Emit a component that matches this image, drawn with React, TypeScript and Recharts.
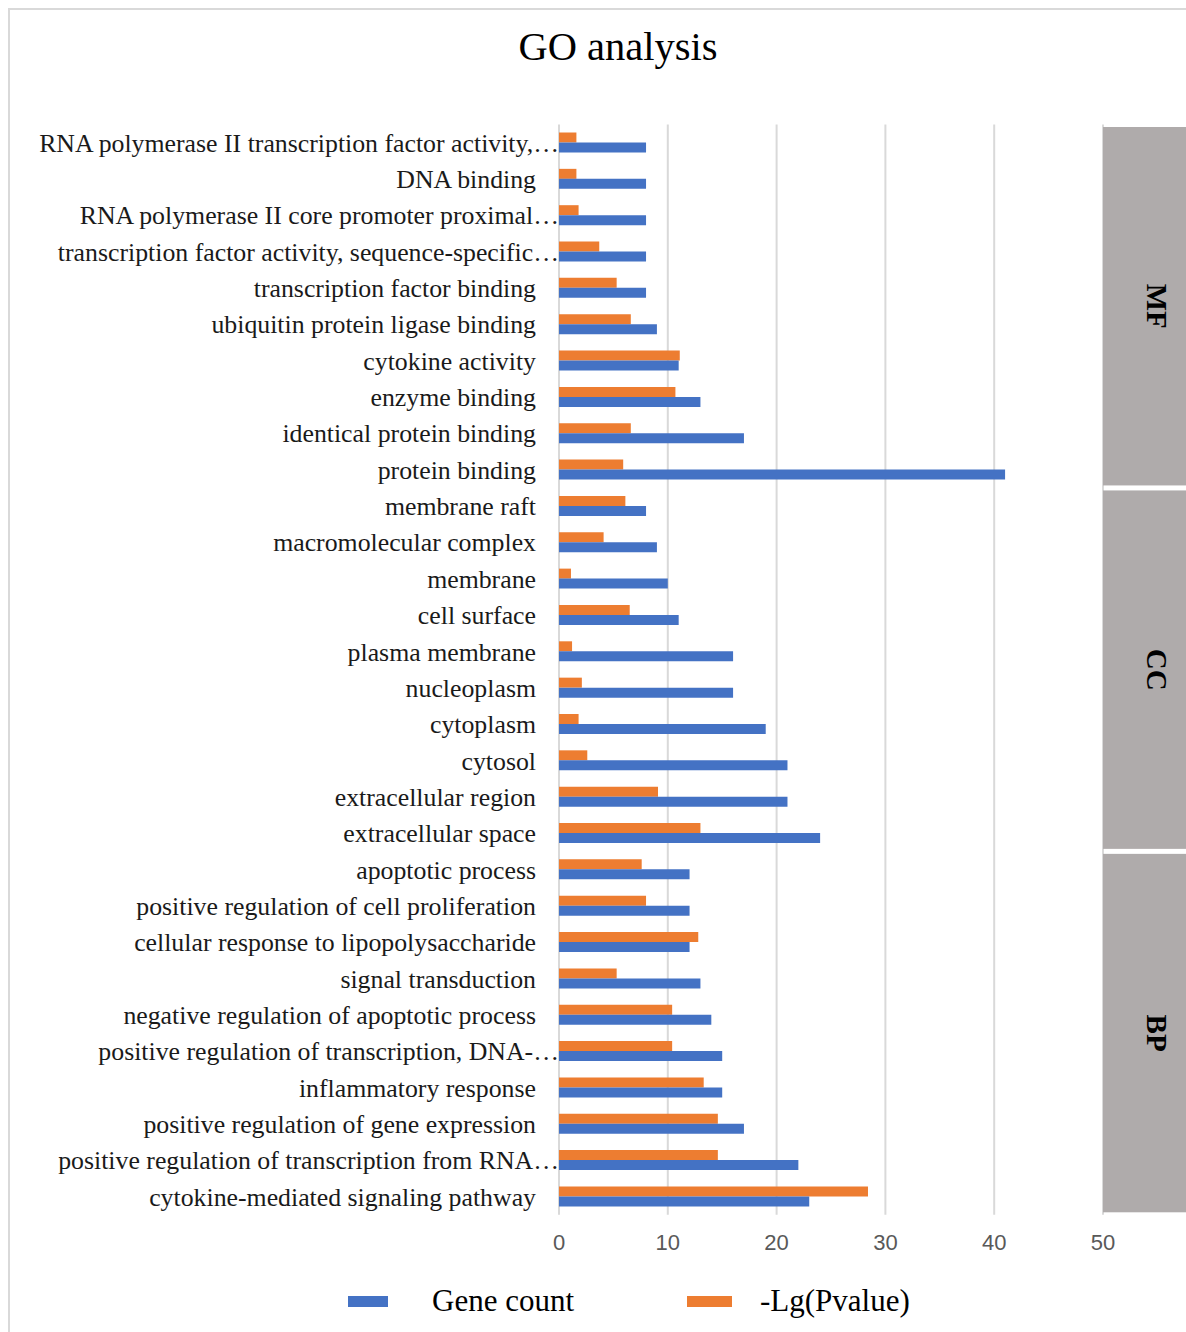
import {
  Bar,
  BarChart,
  CartesianGrid,
  ReferenceArea,
  XAxis,
  YAxis,
} from "recharts";

const categories = [
  "RNA polymerase II transcription factor activity,…",
  "DNA binding",
  "RNA polymerase II core promoter proximal…",
  "transcription factor activity, sequence-specific…",
  "transcription factor binding",
  "ubiquitin protein ligase binding",
  "cytokine activity",
  "enzyme binding",
  "identical protein binding",
  "protein binding",
  "membrane raft",
  "macromolecular complex",
  "membrane",
  "cell surface",
  "plasma membrane",
  "nucleoplasm",
  "cytoplasm",
  "cytosol",
  "extracellular region",
  "extracellular space",
  "apoptotic process",
  "positive regulation of cell proliferation",
  "cellular response to lipopolysaccharide",
  "signal transduction",
  "negative regulation of apoptotic process",
  "positive regulation of transcription, DNA-…",
  "inflammatory response",
  "positive regulation of gene expression",
  "positive regulation of transcription from RNA…",
  "cytokine-mediated signaling pathway",
];

const geneCount = [
  8, 8, 8, 8, 8, 9, 11, 13, 17, 41,
  8, 9, 10, 11, 16, 16, 19, 21, 21, 24,
  12, 12, 12, 13, 14, 15, 15, 17, 22, 23,
];

const negLgP = [
  1.6, 1.6, 1.8, 3.7, 5.3, 6.6, 11.1, 10.7, 6.6, 5.9,
  6.1, 4.1, 1.1, 6.5, 1.2, 2.1, 1.8, 2.6, 9.1, 13.0,
  7.6, 8.0, 12.8, 5.3, 10.4, 10.4, 13.3, 14.6, 14.6, 28.4,
];

const groupNames = ["MF", "CC", "BP"];
const groupSizes = [10, 10, 10];

const xTicks = [0, 10, 20, 30, 40, 50];

const BLUE = "#4472C4";
const ORANGE = "#ED7D31";
const SERIF = '"Liberation Serif", "Times New Roman", serif';

const data = categories.map((name, i) => ({
  name,
  count: geneCount[i],
  pval: negLgP[i],
}));

const legendItems = [
  { label: "Gene count", color: BLUE, left: 348, textLeft: 432, w: 40 },
  { label: "-Lg(Pvalue)", color: ORANGE, left: 687, textLeft: 760, w: 45 },
];

function CategoryTick(props: any) {
  const { x, y, payload } = props;
  const label: string = payload.value;
  const cut = label.endsWith("…");
  return (
    <text
      x={cut ? x : x - 23}
      y={y}
      dy="0.35em"
      textAnchor="end"
      fill="#1a1a1a"
      fontSize={25.8}
      fontFamily={SERIF}
    >
      {label}
    </text>
  );
}

// grey side panel for a group of categories (rect already spans full bands)
const panelShape = (name: string) => (props: any) => {
  const { x, y, width, height } = props;
  const top = y + 2.5;
  const h = height - 5;
  const cx = x + 54;
  const cy = top + h / 2;
  return (
    <g>
      <rect x={x} y={top} width={width} height={h} fill="#AFABAB" />
      <text
        x={cx}
        y={cy}
        transform={`rotate(90 ${cx} ${cy})`}
        textAnchor="middle"
        dominantBaseline="central"
        fontSize={29}
        fontWeight="bold"
        fontFamily={SERIF}
        fill="#000"
      >
        {name}
      </text>
    </g>
  );
};

export default function App() {
  let start = 0;
  const panels = groupNames.map((g, i) => {
    const first = categories[start];
    const last = categories[start + groupSizes[i] - 1];
    start += groupSizes[i];
    return { g, first, last };
  });

  return (
    <div
      style={{
        position: "absolute",
        left: 0,
        top: 0,
        width: 1186,
        height: 1332,
        overflow: "hidden",
        background: "#fff",
      }}
    >
      <div
        style={{
          position: "absolute",
          left: 8,
          top: 8,
          width: 1300,
          height: 1400,
          border: "2px solid #d9d9d9",
        }}
      />
      <div
        style={{
          position: "absolute",
          left: 418,
          top: 23,
          width: 400,
          textAlign: "center",
          fontFamily: SERIF,
          fontSize: 40.5,
          color: "#000",
        }}
      >
        GO analysis
      </div>
      <div style={{ position: "absolute", left: 0, top: 0 }}>
        <BarChart
          width={1186}
          height={1280}
          data={data}
          layout="vertical"
          barSize={10}
          barGap={0}
          margin={{ top: 124.5, right: 83, left: 0, bottom: 25.2 }}
        >
          <CartesianGrid
            horizontal={false}
            stroke="#d9d9d9"
            strokeWidth={2}
          />
          <XAxis
            type="number"
            domain={[0, 50]}
            ticks={xTicks}
            axisLine={false}
            tickLine={false}
            tickMargin={14}
            height={40}
            tick={{
              fill: "#595959",
              fontSize: 22,
              fontFamily: '"Liberation Sans", Arial, sans-serif',
            }}
          />
          <YAxis
            type="category"
            dataKey="name"
            width={559}
            axisLine={false}
            tickLine={false}
            tickSize={0}
            tickMargin={0}
            interval={0}
            tick={<CategoryTick />}
          />
          {panels.map((p) => (
            <ReferenceArea
              key={p.g}
              x1={50}
              x2={58}
              y1={p.first}
              y2={p.last}
              ifOverflow="visible"
              shape={panelShape(p.g)}
            />
          ))}
          <Bar dataKey="pval" fill={ORANGE} isAnimationActive={false} />
          <Bar dataKey="count" fill={BLUE} isAnimationActive={false} />
        </BarChart>
      </div>
      {legendItems.map((it) => (
        <div key={it.label}>
          <span
            style={{
              position: "absolute",
              left: it.left,
              top: 1296,
              width: it.w,
              height: 11,
              background: it.color,
            }}
          />
          <span
            style={{
              position: "absolute",
              left: it.textLeft,
              top: 1283,
              fontFamily: SERIF,
              fontSize: 31,
              lineHeight: "36px",
              color: "#000",
              whiteSpace: "nowrap",
            }}
          >
            {it.label}
          </span>
        </div>
      ))}
    </div>
  );
}
